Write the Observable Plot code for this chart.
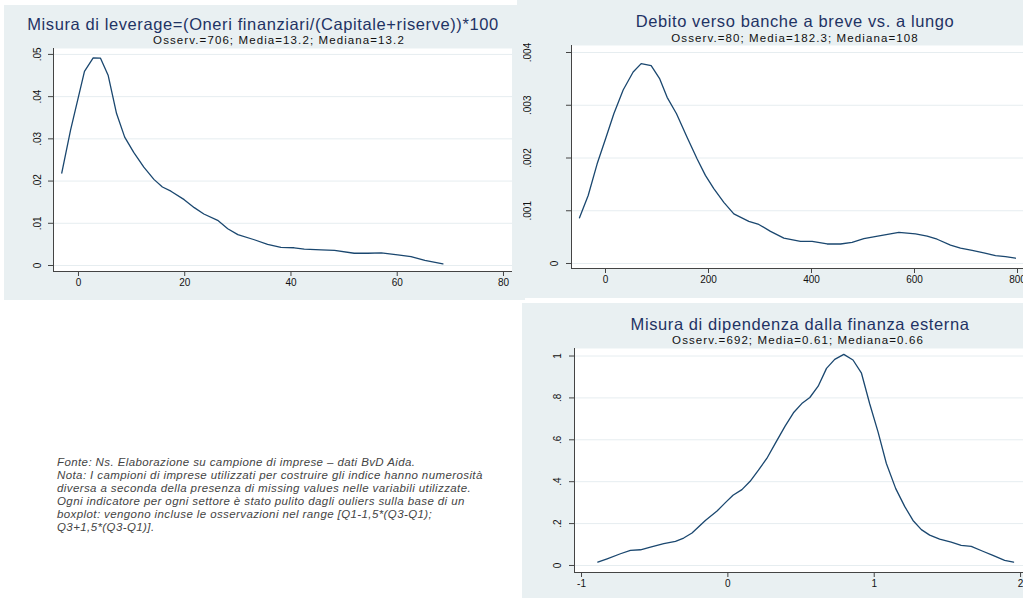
<!DOCTYPE html>
<html><head><meta charset="utf-8">
<script src="https://cdn.jsdelivr.net/npm/d3@7"></script>
<script src="https://cdn.jsdelivr.net/npm/@observablehq/plot@0.6"></script>
<style>
body{margin:0;background:#fff;font-family:"Liberation Sans",Arial,sans-serif;}
#page{position:relative;width:1023px;height:598px;overflow:hidden;background:#fff}
.panel{position:absolute;background:#e9f0f2}
.title{position:absolute;width:600px;text-align:center;color:#1f3364;font-size:16.5px;line-height:18px;white-space:nowrap;letter-spacing:0.6px}
.sub{position:absolute;width:600px;text-align:center;color:#111;font-size:11.5px;line-height:13px;white-space:nowrap;letter-spacing:1.1px}
.note{position:absolute;left:57px;top:456px;font-style:italic;font-size:11.5px;line-height:13.1px;letter-spacing:0.4px;color:#444;white-space:nowrap}
#page svg{position:absolute}
</style></head>
<body>
<div id="page">
  <div class="panel" style="left:4px;top:5px;width:521px;height:295px"></div>
  <div class="panel" style="left:517px;top:0px;width:506px;height:298px"></div>
  <div class="panel" style="left:522px;top:303px;width:501px;height:295px"></div>
  <div class="title" style="left:-37px;top:15px">Misura di leverage=(Oneri finanziari/(Capitale+riserve))*100</div>
  <div class="sub" style="left:-21px;top:34px">Osserv.=706; Media=13.2; Mediana=13.2</div>
  <div class="title" style="left:495px;top:12px">Debito verso banche a breve vs. a lungo</div>
  <div class="sub" style="left:495px;top:32px">Osserv.=80; Media=182.3; Mediana=108</div>
  <div class="title" style="left:500px;top:315px">Misura di dipendenza dalla finanza esterna</div>
  <div class="sub" style="left:498px;top:334px">Osserv.=692; Media=0.61; Mediana=0.66</div>
  <div class="note" id="note"></div>
</div>
<script>
// ---- Panel 1: leverage ----
const levX = [-3.15,-1.5,0.06,1.13,2.77,4.15,5.6,7.17,8.7,10.4,12.3,14.2,15.8,17.4,19.9,21.8,23.6,26.2,28.1,30,33.1,35.6,38.1,40.6,42.5,45.7,48.2,51.9,54.5,57,60.1,62.6,65.2,68.6];
const levY = [.0219,.032,.0403,.046,.0492,.0491,.045,.036,.0304,.0268,.0233,.0204,.0186,.0176,.0156,.0137,.0122,.0107,.0087,.0073,.0061,.0050,.0043,.0042,.0039,.0037,.0036,.0029,.0029,.0030,.0025,.0021,.0012,.0004];
const levXTicks = [0,20,40,60,80];
const levYTicks = [0,.01,.02,.03,.04,.05];
const levYLabels = ["0",".01",".02",".03",".04",".05"];

// ---- Panel 2: debito ----
const debX = [-50.5,-33.6,-16.2,0,16.2,34.3,53.7,69.3,88.7,105.4,119.7,137.9,158.6,178,194,210.3,229.8,249.2,278.3,297.7,320.4,346.3,378.6,401.3,430.4,456.3,478.9,501.6,534,569.6,602,624.6,644,669.9,689.3,712,734.6,757.3,776.7,796];
const debY = [.000866,.00129,.00189,.00236,.00284,.00329,.00363,.00379,.00375,.00350,.00315,.00284,.00239,.00198,.00167,.00142,.00116,.00094,.00080,.00074,.00061,.00048,.00042,.00042,.00037,.00037,.00040,.00047,.00053,.00059,.00056,.00052,.00046,.00035,.00029,.00025,.00020,.00015,.00013,.00010];
const debXTicks = [0,200,400,600,800];
const debYTicks = [0,.001,.002,.003,.004];
const debYLabels = ["0",".001",".002",".003",".004"];

// ---- Panel 3: dipendenza ----
const dipX = [-0.889,-0.825,-0.734,-0.666,-0.597,-0.529,-0.438,-0.358,-0.302,-0.245,-0.154,-0.074,-0.017,0.035,0.096,0.152,0.209,0.266,0.323,0.391,0.448,0.505,0.560,0.617,0.674,0.730,0.792,0.855,0.912,0.969,1.026,1.083,1.147,1.208,1.265,1.322,1.379,1.447,1.526,1.594,1.663,1.742,1.811,1.891,1.952];
const dipY = [.016,.032,.056,.072,.075,.088,.104,.115,.131,.155,.215,.260,.300,.335,.362,.402,.455,.511,.582,.665,.729,.773,.802,.856,.941,.984,1.008,.981,.920,.772,.638,.487,.367,.282,.215,.171,.145,.126,.111,.096,.091,.068,.048,.024,.016];
const dipXTicks = [-1,0,1,2];
const dipYTicks = [0,.2,.4,.6,.8,1];
const dipYLabels = ["0",".2",".4",".6",".8","1"];

const noteLines = [
  "Fonte: Ns. Elaborazione su campione di imprese – dati BvD Aida.",
  "Nota: I campioni di imprese utilizzati per costruire gli indice hanno numerosità",
  "diversa a seconda della presenza di missing values nelle variabili utilizzate.",
  "Ogni indicatore per ogni settore è stato pulito dagli ouliers sulla base di un",
  "boxplot: vengono incluse le osservazioni nel range [Q1-1,5*(Q3-Q1);",
  "Q3+1,5*(Q3-Q1)]."
];

const GRID = "#e6edf0", AXIS = "#444", LINE = "#1a476f";

function chart(o) {
  const pts = o.xs.map((x, i) => ({x, y: o.ys[i]}));
  const yt = o.yTicks.map((v, i) => ({v, label: o.yLabels[i], dx: (o.yDx ? o.yDx[i] : -16)}));
  const groups = d3.groups(yt, d => d.dx);
  const svg = Plot.plot({
    width: o.width, height: o.height,
    marginLeft: o.ml, marginRight: 0, marginTop: o.mt, marginBottom: o.mb,
    x: {domain: o.xDomain},
    y: {domain: o.yDomain},
    style: {background: "transparent", fontFamily: "Liberation Sans, Arial, sans-serif", fontSize: "10px", color: "#111", overflow: "hidden"},
    marks: [
      Plot.frame({fill: "white", stroke: null}),
      Plot.ruleY(o.yTicks, {stroke: GRID, strokeWidth: 1}),
      Plot.line(pts, {x: "x", y: "y", stroke: LINE, strokeWidth: 1.3}),
      Plot.ruleX([o.xDomain[0]], {stroke: AXIS, strokeWidth: 1}),
      Plot.ruleY([o.yDomain[0]], {stroke: AXIS, strokeWidth: 1}),
      Plot.axisX(o.xTicks, {tickSize: 5, tickPadding: 2, stroke: AXIS, fill: "#111", fontSize: 10, tickFormat: d => String(d), label: null}),
      Plot.axisY(o.yTicks, {tickSize: 5, stroke: AXIS, tickFormat: () => "", label: null}),
      ...groups.map(([dx, arr]) => Plot.text(arr, {y: "v", text: "label", frameAnchor: "left", rotate: -90, dx, textAnchor: "middle", lineAnchor: "middle", fontSize: 10, fill: "#111"}))
    ]
  });
  svg.style.left = o.left + "px";
  svg.style.top = o.top + "px";
  document.getElementById("page").appendChild(svg);
}

chart({xs: levX, ys: levY, left: 0, top: 0, width: 512, height: 300, ml: 53, mt: 48, mb: 29,
  xDomain: [-4.7, 81.7], yDomain: [-0.00142, 0.0514], xTicks: levXTicks, yTicks: levYTicks, yLabels: levYLabels});

chart({xs: debX, ys: debY, left: 523, top: 0, width: 500, height: 300, ml: 48, mt: 45, mb: 32,
  xDomain: [-66, 811.65], yDomain: [-0.0000948, 0.004133], xTicks: debXTicks, yTicks: debYTicks, yLabels: debYLabels,
  yDx: [-16.5, -44, -44, -44, -44]});

chart({xs: dipX, ys: dipY, left: 522, top: 304, width: 501, height: 294, ml: 52, mt: 44, mb: 26,
  xDomain: [-1.048, 2.02], yDomain: [-0.0335, 1.0359], xTicks: dipXTicks, yTicks: dipYTicks, yLabels: dipYLabels,
  yDx: [-17, -17, -17, -17, -17, -17]});

document.getElementById("note").innerHTML = noteLines.join("<br>");
</script>
</body></html>
